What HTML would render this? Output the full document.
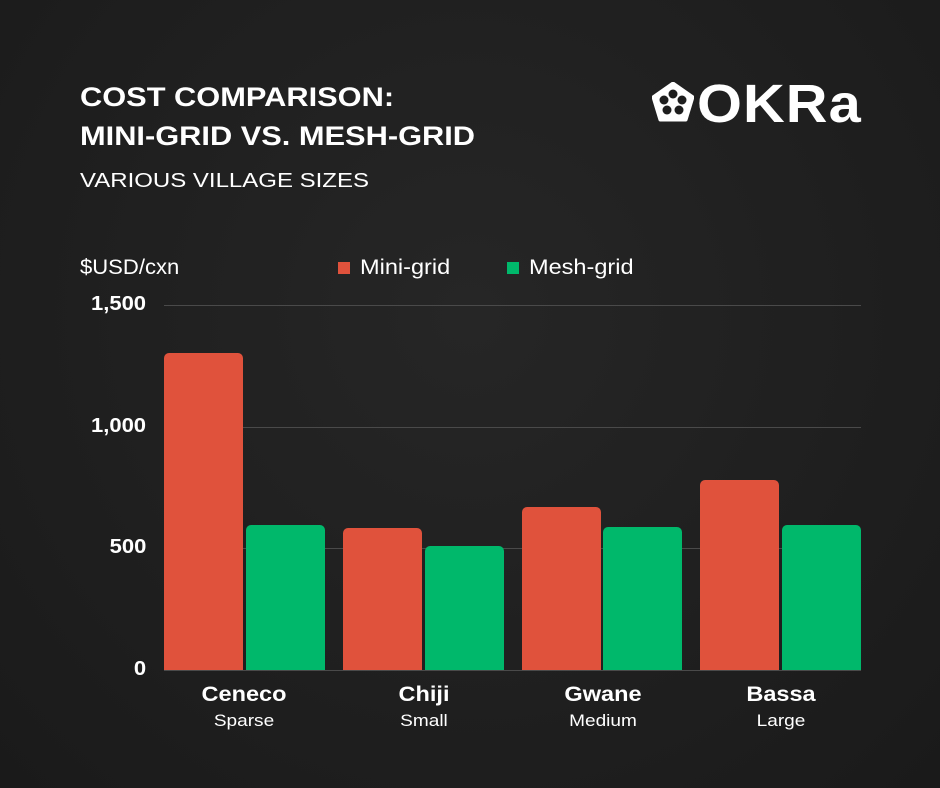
<!DOCTYPE html>
<html><head><meta charset="utf-8"><style>
body{margin:0;width:940px;height:788px;background:radial-gradient(ellipse at 50% 40%,#262626,#1a1a1a);font-family:"Liberation Sans",sans-serif;color:#fff;position:relative;overflow:hidden}
.a{position:absolute;white-space:nowrap}
.t{font-weight:bold;font-size:27px;left:80px;transform:scaleX(1.14);transform-origin:left}
.g{position:absolute;left:164px;width:697px;height:1px;background:#4a4a4a}
.b{position:absolute;border-radius:5px 5px 0 0;width:79px;bottom:118px}
.r{background:#e0523c}.n{background:#00b86b}
.y{font-size:20px;font-weight:bold;right:794px;transform:scaleX(1.1);transform-origin:right}
.c{text-align:center;width:120px;transform:scaleX(1.12)}
</style></head><body>
<div class="a t" style="top:82px">COST COMPARISON:</div>
<div class="a t" style="top:121px">MINI-GRID VS. MESH-GRID</div>
<div class="a" style="left:80px;top:170px;font-size:20px;transform:scaleX(1.2);transform-origin:left">VARIOUS VILLAGE SIZES</div>
<svg class="a" style="left:652px;top:82px" width="42" height="40" viewBox="0 0 42 40"><polygon points="21,1 41,15 34,38 8,38 1,15" fill="#fff" stroke="#fff" stroke-linejoin="round" stroke-width="3"/><g fill="#1e1e1e"><circle cx="21" cy="12" r="4.5"/><circle cx="30" cy="18" r="4.5"/><circle cx="27" cy="28" r="4.5"/><circle cx="15" cy="28" r="4.5"/><circle cx="12" cy="18" r="4.5"/></g></svg>
<div class="a" style="left:697px;top:73px;font-size:54px;font-weight:900;letter-spacing:1px;transform:scaleX(1.07);transform-origin:left">OKRa</div>
<div class="a" style="left:80px;top:256px;font-size:21px;transform:scaleX(1.05);transform-origin:left">$USD/cxn</div>
<div class="a" style="left:338px;top:262px;width:12px;height:12px;background:#e0523c"></div>
<div class="a" style="left:360px;top:256px;font-size:21px;transform:scaleX(1.12);transform-origin:left">Mini-grid</div>
<div class="a" style="left:507px;top:262px;width:12px;height:12px;background:#00b86b"></div>
<div class="a" style="left:529px;top:256px;font-size:21px;transform:scaleX(1.12);transform-origin:left">Mesh-grid</div>
<div class="g" style="top:305px"></div><div class="g" style="top:427px"></div><div class="g" style="top:548px"></div><div class="g" style="top:670px"></div>
<div class="a y" style="top:293px">1,500</div><div class="a y" style="top:415px">1,000</div><div class="a y" style="top:536px">500</div><div class="a y" style="top:658px">0</div>
<div class="b r" style="left:164px;height:317px"></div><div class="b n" style="left:246px;height:145px"></div>
<div class="b r" style="left:343px;height:142px"></div><div class="b n" style="left:425px;height:124px"></div>
<div class="b r" style="left:522px;height:163px"></div><div class="b n" style="left:603px;height:143px"></div>
<div class="b r" style="left:700px;height:190px"></div><div class="b n" style="left:782px;height:145px"></div>
<div class="a c" style="left:184px;top:683px;font-size:21px;font-weight:bold">Ceneco</div><div class="a c" style="left:184px;top:711px;font-size:17px">Sparse</div>
<div class="a c" style="left:364px;top:683px;font-size:21px;font-weight:bold">Chiji</div><div class="a c" style="left:364px;top:711px;font-size:17px">Small</div>
<div class="a c" style="left:543px;top:683px;font-size:21px;font-weight:bold">Gwane</div><div class="a c" style="left:543px;top:711px;font-size:17px">Medium</div>
<div class="a c" style="left:721px;top:683px;font-size:21px;font-weight:bold">Bassa</div><div class="a c" style="left:721px;top:711px;font-size:17px">Large</div>
</body></html>
